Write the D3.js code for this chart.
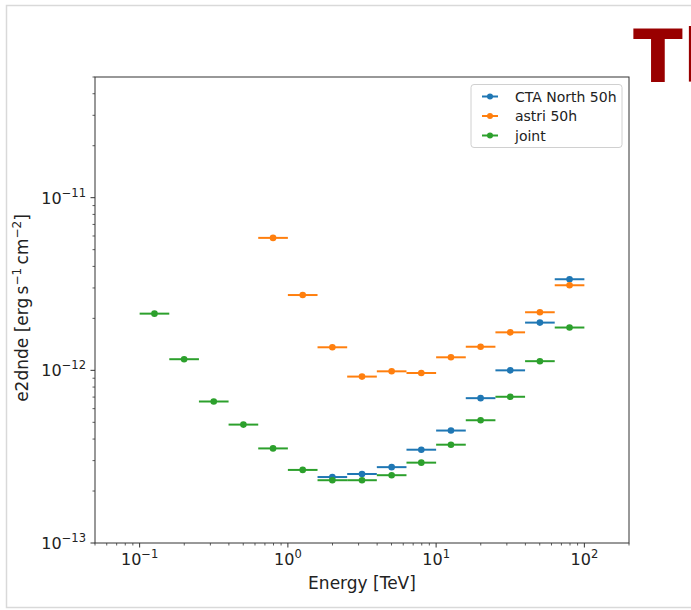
<!DOCTYPE html>
<html>
<head>
<meta charset="utf-8">
<script src="https://cdn.jsdelivr.net/npm/d3@7"></script>
<style>
  html, body { margin: 0; padding: 0; background: #fff; }
  svg { display: block; }
  text { font-family: "DejaVu Sans", sans-serif; }
</style>
</head>
<body>
<svg id="chart" width="691" height="610"></svg>
<script>
// Energy bin edges (TeV), 5 bins per decade
const binEdges = [0.1, 0.1585, 0.2512, 0.3981, 0.631, 1.0, 1.585, 2.512, 3.981, 6.31, 10.0, 15.85, 25.12, 39.81, 63.1, 100.0];

// Sensitivity in each bin (erg s^-1 cm^-2); null = no point in that bin
const ctaNorth = [null, null, null, null, null, null, 2.41e-13, 2.51e-13, 2.75e-13, 3.47e-13, 4.48e-13, 6.9e-13, 1.0e-12, 1.89e-12, 3.37e-12];
const astri    = [null, null, null, null, 5.85e-12, 2.73e-12, 1.36e-12, 9.2e-13, 9.87e-13, 9.65e-13, 1.19e-12, 1.37e-12, 1.66e-12, 2.17e-12, 3.11e-12];
const joint    = [2.13e-12, 1.16e-12, 6.6e-13, 4.85e-13, 3.53e-13, 2.65e-13, 2.31e-13, 2.31e-13, 2.47e-13, 2.92e-13, 3.71e-13, 5.14e-13, 7.03e-13, 1.13e-12, 1.77e-12];

const seriesNames = ["CTA North 50h", "astri 50h", "joint"];
const seriesColors = ["#1f77b4", "#ff7f0e", "#2ca02c"];
const seriesValues = [ctaNorth, astri, joint];

const xMajorTicks = [0.1, 1, 10, 100];
const xTickExp = ["\u22121", "0", "1", "2"];
const yMajorTicks = [1e-13, 1e-12, 1e-11];
const yTickExp = ["\u221213", "\u221212", "\u221211"];

const svg = d3.select("#chart");

// outer frame
svg.append("rect")
  .attr("x", 6.5).attr("y", 5.5)
  .attr("width", 700).attr("height", 602)
  .attr("fill", "none").attr("stroke", "#d9d9d9").attr("stroke-width", 1.5);

// heading fragment at the right edge
svg.append("text")
  .attr("x", 633).attr("y", 82)
  .attr("fill", "#990000")
  .attr("font-family", "DejaVu Sans, sans-serif")
  .attr("font-weight", "bold")
  .attr("font-size", 73)
  .text("Tl");

const m = { left: 95, top: 77, right: 629, bottom: 543 };

const x = d3.scaleLog().domain([0.05, 200]).range([m.left, m.right]);
const y = d3.scaleLog().domain([1e-13, 5e-11]).range([m.bottom, m.top]);

const g = svg.append("g");

// minor ticks (2..9 within each decade)
function minorTicks(lo, hi) {
  const out = [];
  for (let e = Math.floor(Math.log10(lo)); e <= Math.ceil(Math.log10(hi)); e++) {
    for (let k = 2; k <= 9; k++) {
      const v = k * Math.pow(10, e);
      if (v >= lo && v <= hi) out.push(v);
    }
  }
  return out;
}

const axisColor = "#333";

// x ticks
minorTicks(0.05, 200).forEach(v => {
  g.append("line").attr("x1", x(v)).attr("x2", x(v))
    .attr("y1", m.bottom).attr("y2", m.bottom + 2.5)
    .attr("stroke", axisColor).attr("stroke-width", 0.8);
});
xMajorTicks.forEach((v, i) => {
  g.append("line").attr("x1", x(v)).attr("x2", x(v))
    .attr("y1", m.bottom).attr("y2", m.bottom + 4.5)
    .attr("stroke", axisColor).attr("stroke-width", 1);
  const t = g.append("text")
    .attr("x", x(v)).attr("y", m.bottom + 22)
    .attr("text-anchor", "middle")
    .attr("font-size", 16).attr("fill", "#222");
  t.append("tspan").text("10");
  t.append("tspan").attr("dy", -7).attr("font-size", 11.5).text(xTickExp[i]);
});

// y ticks
minorTicks(1e-13, 5e-11).forEach(v => {
  g.append("line").attr("y1", y(v)).attr("y2", y(v))
    .attr("x1", m.left).attr("x2", m.left - 2.5)
    .attr("stroke", axisColor).attr("stroke-width", 0.8);
});
yMajorTicks.forEach((v, i) => {
  g.append("line").attr("y1", y(v)).attr("y2", y(v))
    .attr("x1", m.left).attr("x2", m.left - 4.5)
    .attr("stroke", axisColor).attr("stroke-width", 1);
  const t = g.append("text")
    .attr("x", m.left - 9).attr("y", y(v) + 6)
    .attr("text-anchor", "end")
    .attr("font-size", 16).attr("fill", "#222");
  t.append("tspan").text("10");
  t.append("tspan").attr("dy", -7).attr("font-size", 11.5).text(yTickExp[i]);
});

// spines
g.append("rect")
  .attr("x", m.left).attr("y", m.top)
  .attr("width", m.right - m.left).attr("height", m.bottom - m.top)
  .attr("fill", "none").attr("stroke", axisColor).attr("stroke-width", 1);

// axis labels
g.append("text")
  .attr("x", (m.left + m.right) / 2).attr("y", 589)
  .attr("text-anchor", "middle").attr("font-size", 17).attr("fill", "#222")
  .text("Energy [TeV]");

const yl = g.append("text")
  .attr("transform", `translate(28,${(m.top + m.bottom) / 2 - 2}) rotate(-90)`)
  .attr("text-anchor", "middle").attr("font-size", 17).attr("fill", "#222");
yl.append("tspan").text("e2dnde [erg\u2009s");
yl.append("tspan").attr("dy", -7).attr("font-size", 12).text("\u22121");
yl.append("tspan").attr("dy", 7).text("\u2009cm");
yl.append("tspan").attr("dy", -7).attr("font-size", 12).text("\u22122");
yl.append("tspan").attr("dy", 7).text("]");

// data: horizontal bin-width bars with a dot at the bin centre
seriesValues.forEach((vals, si) => {
  const pts = vals.map((v, i) => ({
    v, lo: binEdges[i], hi: binEdges[i + 1], c: Math.sqrt(binEdges[i] * binEdges[i + 1])
  })).filter(d => d.v != null);
  const sg = g.append("g");
  sg.selectAll("line").data(pts).enter().append("line")
    .attr("x1", d => x(d.lo)).attr("x2", d => x(d.hi))
    .attr("y1", d => y(d.v)).attr("y2", d => y(d.v))
    .attr("stroke", seriesColors[si]).attr("stroke-width", 2);
  sg.selectAll("circle").data(pts).enter().append("circle")
    .attr("cx", d => x(d.c)).attr("cy", d => y(d.v)).attr("r", 3.3)
    .attr("fill", seriesColors[si]);
});

// legend
const lg = g.append("g");
lg.append("rect")
  .attr("x", 471).attr("y", 84.5).attr("width", 151).attr("height", 63)
  .attr("rx", 3).attr("fill", "#fff").attr("fill-opacity", 0.85)
  .attr("stroke", "#d0d0d0").attr("stroke-width", 1);
seriesNames.forEach((name, i) => {
  const cy = 96.5 + i * 19.5;
  lg.append("line").attr("x1", 482).attr("x2", 498).attr("y1", cy).attr("y2", cy)
    .attr("stroke", seriesColors[i]).attr("stroke-width", 2);
  lg.append("circle").attr("cx", 490).attr("cy", cy).attr("r", 3)
    .attr("fill", seriesColors[i]);
  lg.append("text").attr("x", 515).attr("y", cy + 5)
    .attr("font-size", 14).attr("fill", "#222").text(name);
});
</script>
</body>
</html>
